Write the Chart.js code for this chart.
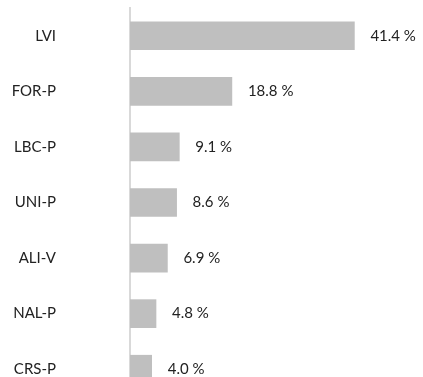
<!DOCTYPE html>
<html lang="en">
<head>
  <meta charset="UTF-8">
  <script src="https://cdn.jsdelivr.net/npm/chart.js"></script>
  <title>Share by code</title>
  <style>
    html, body {
      margin: 0;
      padding: 0;
      overflow: hidden;
      background: #ffffff;
    }
    canvas { display: block; }
  </style>
</head>
<body>
  <canvas id="barChart" width="423" height="397"></canvas>

  <script>
    // categories and their shares (%)
    const codes = ['LVI', 'FOR-P', 'LBC-P', 'UNI-P', 'ALI-V', 'NAL-P', 'CRS-P'];
    const shares = [41.4, 18.8, 9.1, 8.6, 6.9, 4.8, 4.0];

    const labelFont = { family: 'Lato, "Open Sans", sans-serif', size: 15 };

    // writes "xx.x %" just right of each bar
    const valueLabels = {
      id: 'valueLabels',
      afterDatasetsDraw(chart) {
        const ctx = chart.ctx;
        const meta = chart.getDatasetMeta(0);
        ctx.save();
        ctx.font = labelFont.size + 'px ' + labelFont.family;
        ctx.fillStyle = '#222222';
        ctx.textAlign = 'left';
        ctx.textBaseline = 'middle';
        meta.data.forEach((bar, i) => {
          ctx.fillText(shares[i].toFixed(1) + ' %', bar.x + 16, bar.y);
        });
        ctx.restore();
      }
    };

    new Chart(document.getElementById('barChart'), {
      type: 'bar',
      data: {
        labels: codes,
        datasets: [{
          data: shares,
          backgroundColor: '#bfbfbf',
          borderWidth: 0,
          barThickness: 28
        }]
      },
      options: {
        indexAxis: 'y',
        responsive: false,
        animation: false,
        layout: { padding: { top: 8, right: 22, left: 0, bottom: 0 } },
        plugins: {
          legend: { display: false },
          tooltip: { enabled: false }
        },
        scales: {
          x: {
            display: false,
            min: 0,
            max: 50
          },
          y: {
            // fixed label column; tick padding should not eat vertical space
            afterFit(scale) {
              scale.width = 130;
              scale.paddingTop = 0;
              scale.paddingBottom = 0;
            },
            grid: { display: false },
            border: { display: true, color: '#d9d9d9', width: 2 },
            ticks: {
              padding: 66,
              color: '#222222',
              font: labelFont
            }
          }
        }
      },
      plugins: [valueLabels]
    });
  </script>
</body>
</html>
